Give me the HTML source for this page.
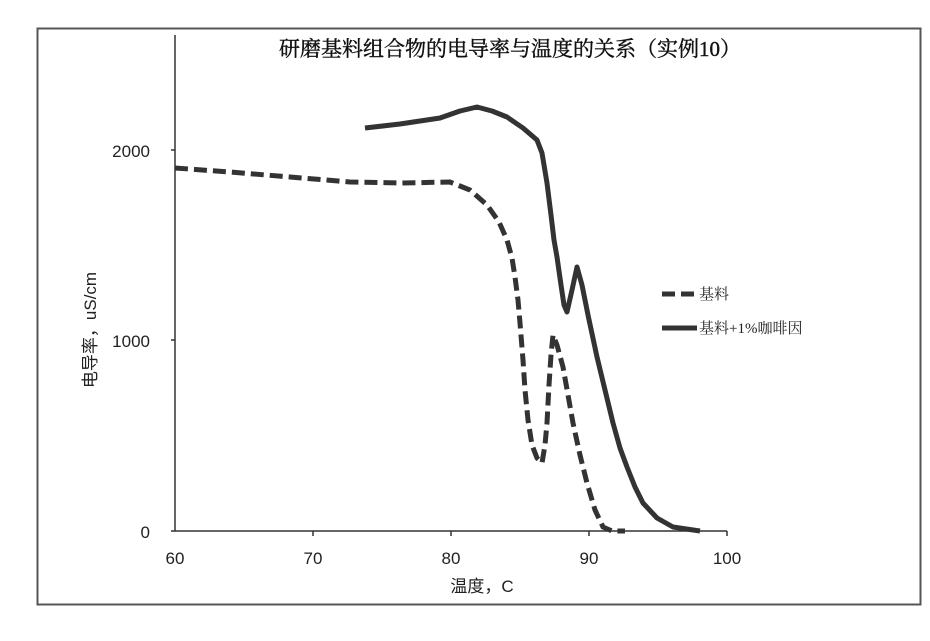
<!DOCTYPE html>
<html><head><style>body{margin:0;background:#fff}</style></head><body>
<svg width="930" height="636" xmlns="http://www.w3.org/2000/svg" font-family="Liberation Sans, Noto Sans CJK SC, sans-serif">
<rect x="0" y="0" width="930" height="636" fill="#fff"/>
<rect x="37.5" y="28.5" width="883" height="576" fill="none" stroke="#555" stroke-width="2"/>
<line x1="175" y1="35" x2="175" y2="531" stroke="#333" stroke-width="1.5"/>
<line x1="175" y1="531" x2="727" y2="531" stroke="#333" stroke-width="1.5"/>
<g stroke="#333" stroke-width="1.5">
<line x1="171" y1="150" x2="175" y2="150"/><line x1="171" y1="340" x2="175" y2="340"/><line x1="171" y1="531" x2="175" y2="531"/>
<line x1="313" y1="531" x2="313" y2="536"/><line x1="451" y1="531" x2="451" y2="536"/><line x1="589" y1="531" x2="589" y2="536"/><line x1="727" y1="531" x2="727" y2="536"/>
</g>
<g font-size="17" fill="#222" text-anchor="end">
<text x="150" y="157">2000</text><text x="150" y="347">1000</text><text x="150" y="538">0</text>
</g>
<g font-size="17" fill="#222" text-anchor="middle">
<text x="175" y="564">60</text><text x="313" y="564">70</text><text x="451" y="564">80</text><text x="589" y="564">90</text><text x="727" y="564">100</text>
</g>
<text x="482" y="592" font-size="17" text-anchor="middle" fill="#222">温度，C</text>
<text transform="translate(96,330) rotate(-90)" font-size="17" text-anchor="middle" fill="#222">电导率，uS/cm</text>
<text x="510" y="56" font-size="21" text-anchor="middle" fill="#111" stroke="#111" stroke-width="0.4" font-family="Liberation Serif, Noto Serif CJK SC, serif">研磨基料组合物的电导率与温度的关系（实例10）</text>
<path d="M175,168 L230,172 L290,177 L350,182 L400,183 L450,182 L470,190 L487,205 L499,222 L507,240 L512,258 L515,277 L518,300 L520,323 L523,360 L525,390 L528,420 L532,445 L537,458 L542,463 L545,445 L547,423 L549,385 L551,355 L553,335 L557,345 L563,367 L568,395 L573,423 L580,455 L587,483 L595,510 L603,527 L612,531 L625,531" fill="none" stroke="#333" stroke-width="5" stroke-dasharray="13,6"/>
<path d="M365,128 L400,124 L440,118 L460,111 L477,107 L492,111 L507,117 L523,128 L537,140 L542,153 L547,183 L551,215 L554,240 L557,257 L561,285 L564,305 L567,312 L572,290 L577,267 L582,285 L588,315 L597,357 L605,390 L613,423 L620,448 L627,467 L635,487 L643,503 L657,518 L673,527 L700,531" fill="none" stroke="#333" stroke-width="5" stroke-linejoin="round"/>
<line x1="662" y1="294" x2="697" y2="294" stroke="#333" stroke-width="5" stroke-dasharray="13,6"/>
<line x1="662" y1="328" x2="697" y2="328" stroke="#333" stroke-width="5"/>
<g font-size="15" fill="#222" font-family="Liberation Serif, Noto Serif CJK SC, serif">
<text x="699" y="299">基料</text><text x="699" y="333">基料+1%咖啡因</text>
</g>
</svg>
</body></html>
